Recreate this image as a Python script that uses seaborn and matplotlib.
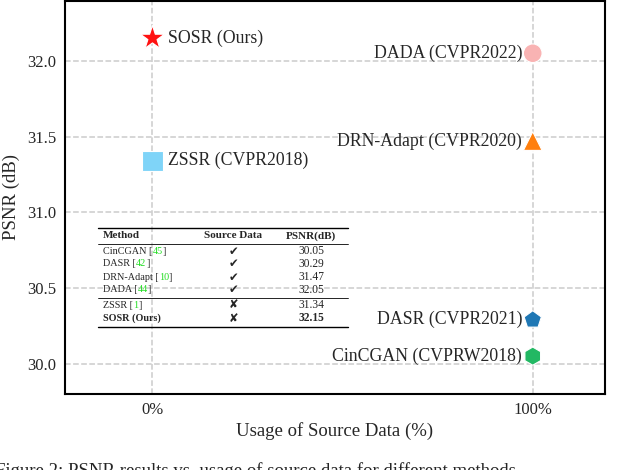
import pandas as pd
import seaborn as sns
import matplotlib
matplotlib.use("Agg")
import matplotlib.pyplot as plt

# data punten
methods = ["SOSR (Ours)", "ZSSR (CVPR2018)", "DADA (CVPR2022)",
           "DRN-Adapt (CVPR2020)", "DASR (CVPR2021)", "CinCGAN (CVPRW2018)"]
usage = [0, 0, 100, 100, 100, 100]
psnr = [32.15, 31.34, 32.05, 31.47, 30.29, 30.05]
markers = ["*", "s", "o", "^", "p", "h"]
colors = ["#ff1111", "#7fd4f8", "#f9b3b3", "#ff7f0e", "#1f77b4", "#22b863"]
sizes = [330, 210, 180, 180, 170, 170]

# tabel
tab_method = ["CinCGAN", "DASR", "DRN-Adapt", "DADA", "ZSSR", "SOSR (Ours)"]
tab_ref = ["45", "42", "10", "44", "1", ""]
tab_source = ["\u2714", "\u2714", "\u2714", "\u2714", "\u2718", "\u2718"]
tab_psnr = ["30.05", "30.29", "31.47", "32.05", "31.34", "32.15"]

df = pd.DataFrame({"method": methods, "usage": usage, "psnr": psnr})

sns.set_style("white")
plt.rcParams["font.family"] = ["Liberation Serif", "DejaVu Sans"]

fig = plt.figure(figsize=(6.4, 4.7), dpi=100)
ax = fig.add_axes([65 / 640, 1 - 394 / 470, 540 / 640, 393 / 470])

sns.scatterplot(data=df, x="usage", y="psnr", hue="method", style="method",
                size="method", palette=dict(zip(methods, colors)),
                markers=dict(zip(methods, markers)),
                sizes=dict(zip(methods, sizes)),
                edgecolor="white", linewidth=0.8, legend=False, zorder=3, ax=ax)

for m, x, y in zip(methods, usage, psnr):
    if x == 0:
        ax.text(x + 4, y, m, ha="left", va="center", fontsize=12.8)
    else:
        ax.text(x - 2.8, y, m, ha="right", va="center", fontsize=12.8)

ax.set_xlim(-23, 119)
ax.set_ylim(29.8, 32.395)
ax.set_xticks([0, 100])
ax.set_xticklabels(["0%", "100%"])
ax.set_yticks([30.0, 30.5, 31.0, 31.5, 32.0])
ax.tick_params(labelsize=12, length=0, pad=6)
ax.grid(True, linestyle="--", color="#cccccc", linewidth=1.1)
for s in ax.spines.values():
    s.set_color("black")
    s.set_linewidth(1.5)
ax.set_xlabel("Usage of Source Data (%)", fontsize=13.5, labelpad=3)
ax.set_ylabel("PSNR (dB)", fontsize=13.5, labelpad=5)


def axpos(px, py):
    return (px - 65) / 540, (394 - py) / 393


# tabel tekenen
fs = 7.3
fh = 8
renderer = fig.canvas.get_renderer()
for py in [228, 327]:
    x0, y0 = axpos(98, py)
    x1, _ = axpos(348, py)
    ax.plot([x0, x1], [y0, y0], color="black", lw=1.0, transform=ax.transAxes)
for py in [244, 298]:
    x0, y0 = axpos(98, py)
    x1, _ = axpos(348, py)
    ax.plot([x0, x1], [y0, y0], color="black", lw=0.6, transform=ax.transAxes)

hy = axpos(0, 236)[1]
ax.text(*axpos(103, 236), "Method", fontsize=fh, fontweight="bold", va="center",
        transform=ax.transAxes)
ax.text(axpos(233, 0)[0], hy, "Source Data", fontsize=fh, fontweight="bold",
        ha="center", va="center", transform=ax.transAxes)
ax.text(axpos(311, 0)[0], hy, "PSNR(dB)", fontsize=fh, fontweight="bold",
        ha="center", va="center", transform=ax.transAxes)

row_y = [251, 264, 277, 290, 305, 318]
for i in range(len(tab_method)):
    bold = "bold" if i == len(tab_method) - 1 else "normal"
    x0, y0 = axpos(103, row_y[i])
    if tab_ref[i]:
        t = ax.text(x0, y0, tab_method[i] + " [", fontsize=fs, va="center",
                    transform=ax.transAxes)
        bb = t.get_window_extent(renderer)
        xa = (bb.x1 - ax.bbox.x0) / ax.bbox.width
        t2 = ax.text(xa, y0, tab_ref[i], fontsize=fs, va="center",
                     color="#22dd22", transform=ax.transAxes)
        bb2 = t2.get_window_extent(renderer)
        xb = (bb2.x1 - ax.bbox.x0) / ax.bbox.width
        ax.text(xb, y0, "]", fontsize=fs, va="center", transform=ax.transAxes)
    else:
        ax.text(x0, y0, tab_method[i], fontsize=fs, va="center",
                fontweight=bold, transform=ax.transAxes)
    ax.text(axpos(233, 0)[0], y0, tab_source[i], fontsize=fs + 1, ha="center",
            va="center", family="DejaVu Sans", transform=ax.transAxes)
    ax.text(axpos(311, 0)[0], y0, tab_psnr[i], fontsize=8.3, ha="center",
            va="center", fontweight=bold, transform=ax.transAxes)

fig.text(-0.008, 1 - 462 / 470,
         "Figure 2: PSNR results vs. usage of source data for different methods.",
         fontsize=13.5, va="top", ha="left")

fig.savefig("out.png", dpi=100)
